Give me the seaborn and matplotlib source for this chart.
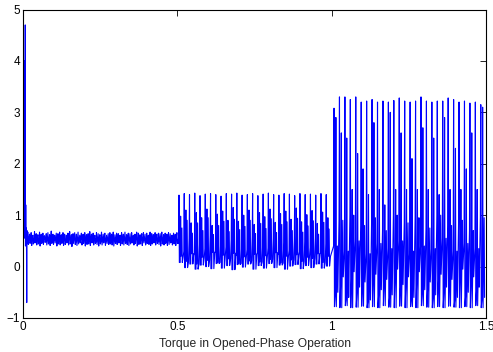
import numpy as np
import pandas as pd
import matplotlib
matplotlib.use("Agg")
import matplotlib.pyplot as plt
import seaborn as sns

# ---- data (torque signal) ----
# start-up transient: (time, value)
start_t = [0.000, 0.0008, 0.0016, 0.0024, 0.0032, 0.004, 0.0048, 0.0056, 0.0064, 0.0072, 0.0080, 0.0088, 0.0096, 0.0104, 0.0112, 0.0120, 0.0128, 0.0136, 0.0146]
start_v = [0.55, 2.25, 0.90, 1.80, 0.60, 1.75, 0.70, 4.00, 0.55, 4.70, 0.40, 1.20, 0.45, 0.75, 0.50, -0.70, 0.70, 0.45, 0.62]

# steady single-phase noise band (0.015 .. 0.5 s): alternating upper / lower / middle samples
noise_hi = [0.67, 0.63, 0.66, 0.61, 0.68, 0.64, 0.62, 0.67, 0.63, 0.65,
            0.60, 0.64, 0.66, 0.62, 0.69, 0.63, 0.61, 0.65, 0.64, 0.67,
            0.62, 0.66, 0.63, 0.61, 0.65, 0.68, 0.62, 0.64, 0.66, 0.63,
            0.67, 0.61, 0.65, 0.63, 0.66, 0.62, 0.64, 0.68, 0.63, 0.65,
            0.61, 0.66, 0.64, 0.62, 0.67, 0.63, 0.65, 0.61, 0.64, 0.66,
            0.63, 0.67, 0.62, 0.65, 0.64, 0.61, 0.66, 0.63, 0.67, 0.62,
            0.65, 0.64, 0.66, 0.61, 0.63, 0.67, 0.65, 0.62, 0.64, 0.66,
            0.63, 0.65, 0.61, 0.67, 0.64, 0.62, 0.66, 0.63, 0.65, 0.64,
            0.67, 0.62, 0.65, 0.63, 0.66, 0.64, 0.61, 0.65, 0.63, 0.66]
noise_lo = [0.43, 0.45, 0.41, 0.44, 0.46, 0.42, 0.44, 0.40, 0.45, 0.43,
            0.47, 0.42, 0.44, 0.41, 0.45, 0.43, 0.46, 0.40, 0.44, 0.42,
            0.45, 0.41, 0.43, 0.46, 0.42, 0.44, 0.39, 0.45, 0.43, 0.41,
            0.44, 0.46, 0.42, 0.45, 0.40, 0.43, 0.44, 0.41, 0.46, 0.42,
            0.45, 0.43, 0.40, 0.44, 0.42, 0.46, 0.41, 0.45, 0.43, 0.44,
            0.42, 0.40, 0.45, 0.43, 0.46, 0.41, 0.44, 0.42, 0.45, 0.43,
            0.41, 0.44, 0.46, 0.42, 0.45, 0.40, 0.43, 0.44, 0.41, 0.46,
            0.42, 0.45, 0.43, 0.41, 0.44, 0.46, 0.42, 0.45, 0.43, 0.40,
            0.44, 0.42, 0.45, 0.41, 0.43, 0.46, 0.42, 0.44, 0.41, 0.45]
noise_mid = [0.55, 0.50, 0.57, 0.48, 0.53, 0.56, 0.49, 0.54, 0.51, 0.58,
             0.50, 0.55, 0.52, 0.57, 0.49, 0.54, 0.56, 0.50, 0.53, 0.58,
             0.51, 0.55, 0.48, 0.54, 0.57, 0.50, 0.53, 0.56, 0.49, 0.55,
             0.52, 0.58, 0.50, 0.54, 0.56, 0.49, 0.53, 0.57, 0.51, 0.55,
             0.48, 0.54, 0.56, 0.50, 0.53, 0.58, 0.51, 0.55, 0.49, 0.54,
             0.57, 0.50, 0.53, 0.55, 0.48, 0.56, 0.52, 0.54, 0.50, 0.57,
             0.53, 0.49, 0.55, 0.51, 0.58, 0.50, 0.54, 0.56, 0.52, 0.55,
             0.49, 0.57, 0.53, 0.50, 0.55, 0.52, 0.56, 0.49, 0.54, 0.57,
             0.51, 0.55, 0.50, 0.56, 0.53, 0.49, 0.55, 0.52, 0.57, 0.53]

# 0.5 .. 1.0 s : per-cycle levels
s2_mid2 = [0.45, 0.30, 0.55, 0.25, 0.50, 0.35, 0.60, 0.28, 0.48, 0.38, 0.52, 0.22, 0.44, 0.33, 0.58,
           0.27, 0.50, 0.36, 0.55, 0.24, 0.47, 0.31, 0.53, 0.29, 0.49, 0.37, 0.56, 0.26, 0.45]
s2_peak = [1.39, 1.42, 1.40, 1.43, 1.38, 1.41, 1.42, 1.40, 1.37, 1.42, 1.41, 1.43, 1.39, 1.40, 1.42,
           1.38, 1.41, 1.43, 1.40, 1.39, 1.42, 1.41, 1.38, 1.42, 1.40, 1.41, 1.39, 1.42, 1.40]
s2_low = [0.08, -0.02, 0.05, -0.05, 0.03, 0.00, -0.04, 0.06, -0.03, 0.02, -0.06, 0.04, -0.01, 0.05, -0.05,
          0.02, -0.03, 0.06, -0.02, 0.03, -0.05, 0.01, 0.04, -0.04, 0.02, -0.02, 0.05, -0.03, 0.01]
s2_mid = [0.98, 1.10, 0.85, 1.05, 0.95, 1.12, 0.80, 1.02, 1.08, 0.90, 1.15, 0.88, 1.00, 1.10, 0.82,
          1.05, 0.97, 1.12, 0.86, 1.03, 1.08, 0.92, 1.14, 0.87, 1.01, 1.09, 0.84, 1.06, 0.95]
s2_low2 = [0.20, 0.10, 0.25, 0.05, 0.18, 0.12, 0.28, 0.08, 0.22, 0.15, 0.26, 0.06, 0.19, 0.11, 0.24,
           0.09, 0.21, 0.14, 0.27, 0.07, 0.20, 0.13, 0.23, 0.10, 0.18, 0.16, 0.25, 0.08, 0.20]
s2_mid3 = [0.75, 0.90, 0.65, 0.85, 0.70, 0.95, 0.62, 0.80, 0.88, 0.68, 0.92, 0.72, 0.78, 0.90, 0.64,
           0.84, 0.74, 0.93, 0.66, 0.82, 0.87, 0.70, 0.94, 0.67, 0.79, 0.89, 0.63, 0.86, 0.73]

# 1.0 .. 1.5 s : per-cycle levels
s3_mid2 = [0.40, 0.90, 0.30, 1.00, 0.50, 0.80, 0.25, 0.95, 0.45, 0.70, 0.35, 1.00, 0.50, 0.85, 0.30,
           0.95, 0.40, 0.75, 0.35, 1.00, 0.55, 0.80, 0.30, 0.90, 0.45, 0.70, 0.35, 0.95]
s3_peak = [3.08, 3.30, 3.30, 3.25, 3.30, 3.20, 3.22, 3.25, 3.20, 3.22, 3.20, 3.23, 3.28, 3.22,
           3.20, 3.22, 3.30, 3.22, 3.20, 3.22, 3.22, 3.28, 3.25, 3.20, 3.22, 3.18, 3.20, 3.15]
s3_low = [-0.78, -0.80, -0.76, -0.80, -0.79, -0.77, -0.80, -0.78, -0.80, -0.76, -0.79, -0.80, -0.77, -0.80,
          -0.78, -0.80, -0.76, -0.79, -0.80, -0.78, -0.80, -0.77, -0.79, -0.80, -0.78, -0.80, -0.76, -0.80]
s3_mid = [2.90, 2.60, 2.50, 1.50, 2.20, 1.90, 1.40, 2.80, 1.50, 1.20, 3.00, 1.50, 2.60, 1.50,
          2.10, 1.50, 2.70, 1.50, 2.50, 1.40, 2.90, 1.50, 2.30, 1.50, 1.90, 2.60, 1.50, 3.10]
s3_low2 = [-0.50, -0.20, -0.60, -0.10, -0.40, -0.30, -0.65, -0.15, -0.45, -0.25, -0.55, -0.05, -0.35, -0.20,
           -0.60, -0.10, -0.45, -0.30, -0.55, -0.15, -0.40, -0.25, -0.60, -0.05, -0.50, -0.20, -0.40, -0.60]

x_ticks = [0, 0.5, 1, 1.5]
x_tick_labels = ["0", "0.5", "1", "1.5"]
y_ticks = [-1, 0, 1, 2, 3, 4, 5]
x_label = "Torque in Opened-Phase Operation"

# ---- build the time series ----
t_list = list(start_t)
v_list = list(start_v)

n_noise = len(noise_hi)
noise_t = np.linspace(0.0155, 0.502, 3 * n_noise)
noise_v = np.ravel(np.column_stack([noise_hi, noise_lo, noise_mid]))
t_list += list(noise_t)
v_list += list(noise_v)


def cycles(t0, t1, pattern):
    """pattern: list of (fraction of cycle, per-cycle level list)"""
    n = len(pattern[0][1])
    period = (t1 - t0) / n
    ts, vs = [], []
    for k in range(n):
        for f, lev in pattern:
            ts.append(t0 + (k + f) * period)
            vs.append(lev[k])
    return ts, vs


pat2 = [(0.00, s2_mid2), (0.07, s2_peak), (0.14, s2_low), (0.30, s2_low),
        (0.38, s2_mid), (0.46, s2_low2), (0.62, s2_mid3), (0.70, s2_low), (0.88, s2_low2)]
pat3 = [(0.00, s3_mid2), (0.08, s3_peak), (0.16, s3_low), (0.34, s3_low2),
        (0.42, s3_mid), (0.50, s3_low), (0.70, s3_mid2), (0.78, s3_low2)]
ts2, vs2 = cycles(0.504, 0.998, pat2)
ts3, vs3 = cycles(1.006, 1.499, pat3)
t_list += ts2 + ts3
v_list += vs2 + vs3

df = pd.DataFrame({"t": t_list, "torque": v_list})

# ---- draw ----
sns.set_theme(style="white")
plt.rcParams["font.family"] = ["Liberation Sans", "DejaVu Sans"]

fig = plt.figure(figsize=(4.93, 3.52), dpi=100)
ax = fig.add_axes([0.0467, 0.0966, 0.9393, 0.8764])
sns.lineplot(data=df, x="t", y="torque", ax=ax, color=(0, 0, 1), linewidth=0.8,
             estimator=None, sort=False)

ax.set_xlim(0, 1.5)
ax.set_ylim(-1, 5)
ax.set_xticks(x_ticks)
ax.set_xticklabels(x_tick_labels)
ax.set_yticks(y_ticks)
ax.set_xlabel(x_label, fontsize=8.7, labelpad=4)
ax.set_ylabel("")
ax.tick_params(direction="in", length=4, width=0.6, labelsize=8.5, colors="black",
               top=True, right=True, pad=2)
for s in ax.spines.values():
    s.set_visible(True)
    s.set_color("black")
    s.set_linewidth(0.8)
ax.grid(False)
ax.set_facecolor("white")
fig.patch.set_facecolor("white")

fig.savefig("out.png", dpi=100)
